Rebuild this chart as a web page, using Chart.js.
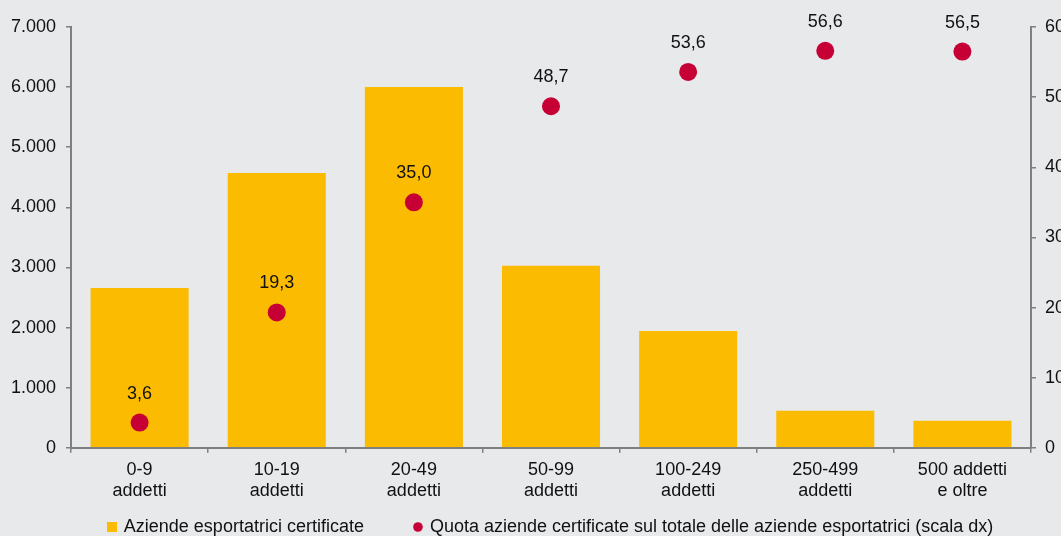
<!DOCTYPE html>
<html>
<head>
<meta charset="utf-8">
<script src="https://cdn.jsdelivr.net/npm/chart.js@4"></script>
<style>
  html, body { margin: 0; padding: 0; background: #e8e9eb; overflow: hidden; }
  #wrap { width: 1074px; height: 536px; }
</style>
</head>
<body>
<div id="wrap"><canvas id="chart"></canvas></div>
<script>
// Chart data
const categories = [['0-9', 'addetti'], ['10-19', 'addetti'], ['20-49', 'addetti'], ['50-99', 'addetti'],
                    ['100-249', 'addetti'], ['250-499', 'addetti'], ['500 addetti', 'e oltre']];
const certifiedFirms = [2660, 4570, 6000, 3030, 1945, 615, 450];
const certifiedShare = [3.6, 19.3, 35.0, 48.7, 53.6, 56.6, 56.5];
const leftTicks = [0, 1000, 2000, 3000, 4000, 5000, 6000, 7000];
const rightTicks = [0, 10, 20, 30, 40, 50, 60];

const barColor = '#fbbb00';
const dotColor = '#c60034';
const axisColor = '#7f7f7f';
const textColor = '#111111';
const fontFamily = '"Liberation Sans", Arial, sans-serif';

// small legend markers
function makeMarker(color, round) {
    const c = document.createElement('canvas');
    c.width = 10;
    c.height = 10;
    const g = c.getContext('2d');
    g.fillStyle = color;
    if (round) {
        g.beginPath();
        g.arc(5, 5, 4.8, 0, Math.PI * 2);
        g.fill();
    } else {
        g.fillRect(0, 0, 10, 10);
    }
    return c;
}
const barMarker = makeMarker(barColor, false);
const dotMarker = makeMarker(dotColor, true);

// Labels above the red points
const pointLabels = {
    id: 'pointLabels',
    afterDatasetsDraw(chart) {
        const ctx = chart.ctx;
        const meta = chart.getDatasetMeta(1);
        ctx.save();
        ctx.font = '18px ' + fontFamily;
        ctx.fillStyle = textColor;
        ctx.textAlign = 'center';
        ctx.textBaseline = 'middle';
        meta.data.forEach((pt, i) => {
            ctx.fillText(certifiedShare[i].toFixed(1).replace('.', ','), pt.x, pt.y - 29);
        });
        ctx.restore();
    }
};

const ctx = document.getElementById('chart').getContext('2d');
new Chart(ctx, {
    data: {
        labels: categories,
        datasets: [{
            type: 'bar',
            label: 'Aziende esportatrici certificate',
            data: certifiedFirms,
            backgroundColor: barColor,
            yAxisID: 'y',
            order: 1,
            barPercentage: 0.715,
            categoryPercentage: 1
        }, {
            type: 'line',
            label: 'Quota aziende certificate sul totale delle aziende esportatrici (scala dx)',
            data: certifiedShare,
            yAxisID: 'y1',
            order: 0,
            showLine: false,
            pointStyle: 'circle',
            pointRadius: 9,
            pointHoverRadius: 9,
            backgroundColor: dotColor,
            borderColor: dotColor,
            borderWidth: 0
        }]
    },
    options: {
        responsive: true,
        maintainAspectRatio: false,
        animation: false,
        layout: { padding: { top: 27, left: 1, right: 0, bottom: -10 } },
        plugins: {
            tooltip: { enabled: false },
            legend: {
                position: 'bottom',
                fullSize: false,
                labels: {
                    usePointStyle: true,
                    boxWidth: 6,
                    boxHeight: 10,
                    padding: 10,
                    color: textColor,
                    font: { size: 18, family: fontFamily },
                    generateLabels: chart => chart.data.datasets.map((ds, i) => ({
                        text: i === 0 ? ds.label + '\u2003\u2003 ' : ds.label,
                        fillStyle: i === 0 ? barColor : dotColor,
                        strokeStyle: 'transparent',
                        lineWidth: 0,
                        pointStyle: i === 0 ? barMarker : dotMarker,
                        fontColor: textColor,
                        hidden: false,
                        datasetIndex: i
                    }))
                }
            }
        },
        scales: {
            x: {
                grid: { offset: true, drawOnChartArea: false, color: axisColor, tickLength: 5, lineWidth: 1.5 },
                border: { color: axisColor, width: 2 },
                ticks: { color: textColor, font: { size: 18, family: fontFamily }, padding: 6, maxRotation: 0 }
            },
            y: {
                position: 'left',
                min: 0,
                max: 7000,
                afterBuildTicks: axis => { axis.ticks = leftTicks.map(v => ({ value: v })); },
                grid: { drawOnChartArea: false, color: axisColor, tickLength: 5, lineWidth: 1.5 },
                border: { color: axisColor, width: 2 },
                ticks: {
                    color: textColor,
                    padding: 10,
                    font: { size: 18, family: fontFamily },
                    callback: v => v.toLocaleString('de-DE')
                }
            },
            y1: {
                position: 'right',
                min: 0,
                max: 60,
                afterBuildTicks: axis => { axis.ticks = rightTicks.map(v => ({ value: v })); },
                grid: { drawOnChartArea: false, color: axisColor, tickLength: 5, lineWidth: 1.5 },
                border: { color: axisColor, width: 2 },
                ticks: { color: textColor, padding: 9, font: { size: 18, family: fontFamily } }
            }
        }
    },
    plugins: [pointLabels]
});
</script>
</body>
</html>
